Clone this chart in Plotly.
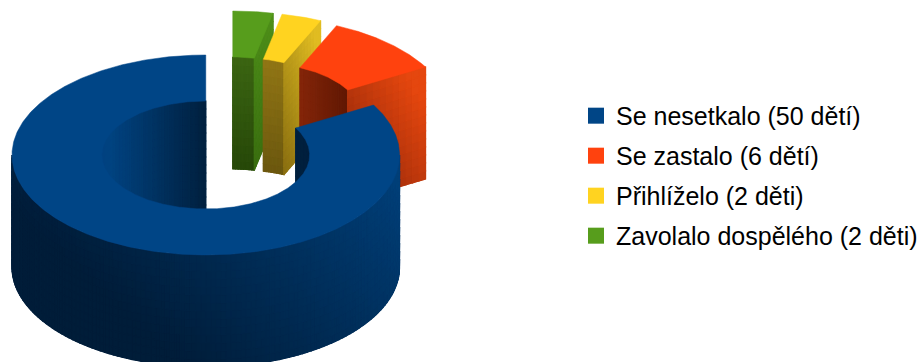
import numpy as np
import plotly.graph_objects as go

# Survey answers and their legend text
labels = ["Se nesetkalo (50 dětí)", "Se zastalo (6 dětí)", "Přihlíželo (2 děti)", "Zavolalo dospělého (2 děti)"]
values = [50, 6, 2, 2]
top_colors = ["#004586", "#ff420e", "#ffd320", "#579d1c"]

# How far each slice is pulled out of the ring (pixels right, pixels up)
pull_x = [0, 52, 36, 27]
pull_y = [0, 38, 43, 44]

# Wall shading per slice: (dark, light, x weight, y weight, offset)
inner_shade = [
    ("#00203e", "#004380", -2.18, 0.0, 1.1),
    ("#601804", "#84260a", -1.0, 0.0, 1.0),
    ("#6b570f", "#927716", 0.0, 1.0, 0.0),
    ("#274809", "#3c6613", 0.0, 1.0, 0.0),
]
face_shade = [
    None,
    ("#92280a", "#e5470f", 0.65, 0.75, -0.2),
    ("#8b7011", "#e0bc22", 0.5, 0.7, -0.05),
    ("#3a6d10", "#4f901a", 0.0, 1.0, 0.0),
]
outer_shade = [("#001d39", "#003f78", 0.95, 0.55, -0.42), None, None, None]

# Ring geometry in page pixels
CX, CY = 206, 155
RX_OUT, RY_OUT = 194, 100
RX_IN, RY_IN = 104, 54
DEPTH = 112
LEVELS = 56


def ring_xy(theta, rx, ry, px, py, drop=0.0):
    rad = np.radians(theta)
    return CX + rx * np.sin(rad) + px, CY - ry * np.cos(rad) - py + drop


def hex_rgb(c):
    return np.array([int(c[i:i + 2], 16) for i in (1, 3, 5)], dtype=float)


def polygon_trace(quads, color, width):
    xs, ys = [], []
    for q in quads:
        xs += [p[0] for p in q] + [q[0][0], None]
        ys += [p[1] for p in q] + [q[0][1], None]
    return go.Scatter(x=xs, y=ys, mode="lines", fill="toself", fillcolor=color,
                      line=dict(color=color, width=width), hoverinfo="skip", showlegend=False)


def shaded_traces(cells, shade):
    """Bin small quads by gradient level and draw each bin as one filled trace."""
    low, high, wx, wy, off = shade
    pts = np.array([p for q in cells for p in q])
    x0, x1, y0, y1 = pts[:, 0].min(), pts[:, 0].max(), pts[:, 1].min(), pts[:, 1].max()
    bins = {}
    for q in cells:
        mx, my = np.mean(q, axis=0)
        t = wx * (mx - x0) / max(x1 - x0, 1) + wy * (y1 - my) / max(y1 - y0, 1) + off
        level = int(round(np.clip(t, 0, 1) * (LEVELS - 1)))
        bins.setdefault(level, []).append(q)
    # A flat underlay closes the hairline seams between neighbouring quads
    levels = sorted(bins)
    mid = hex_rgb(low) + (hex_rgb(high) - hex_rgb(low)) * levels[len(levels) // 2] / (LEVELS - 1)
    out = [polygon_trace(cells, "rgb(%d,%d,%d)" % tuple(mid), 0.6)]
    for level in levels:
        rgb = hex_rgb(low) + (hex_rgb(high) - hex_rgb(low)) * level / (LEVELS - 1)
        out.append(polygon_trace(bins[level], "rgb(%d,%d,%d)" % tuple(rgb), 1.2))
    return out


def wall_cells(t_from, t_to, rx, ry, px, py, keep):
    cells = []
    thetas = np.arange(t_from, t_to + 0.01, 1.5)
    if thetas[-1] < t_to:
        thetas = np.append(thetas, t_to)
    drops = np.linspace(0, DEPTH, 15)
    for a, b in zip(thetas[:-1], thetas[1:]):
        if not keep(np.cos(np.radians((a + b) / 2))):
            continue
        for d0, d1 in zip(drops[:-1], drops[1:]):
            cells.append([ring_xy(a, rx, ry, px, py, d0), ring_xy(b, rx, ry, px, py, d0),
                          ring_xy(b, rx, ry, px, py, d1), ring_xy(a, rx, ry, px, py, d1)])
    return cells


def face_cells(theta, px, py):
    cells = []
    fr = np.linspace(0, 1, 13)
    drops = np.linspace(0, DEPTH, 15)

    def pt(f, d):
        return ring_xy(theta, RX_IN + (RX_OUT - RX_IN) * f, RY_IN + (RY_OUT - RY_IN) * f, px, py, d)

    for f0, f1 in zip(fr[:-1], fr[1:]):
        for d0, d1 in zip(drops[:-1], drops[1:]):
            cells.append([pt(f0, d0), pt(f1, d0), pt(f1, d1), pt(f0, d1)])
    return cells


def slice_traces(i, t_from, t_to):
    px, py = pull_x[i], pull_y[i]
    traces = []
    inner = wall_cells(t_from, t_to, RX_IN, RY_IN, px, py, lambda c: c > 0)
    if inner:
        traces += shaded_traces(inner, inner_shade[i])
    if face_shade[i]:
        traces += shaded_traces(face_cells(t_to, px, py), face_shade[i])
    # Top of the slice
    th = np.linspace(t_from, t_to, max(int(t_to - t_from), 8) * 2)
    xo, yo = ring_xy(th, RX_OUT, RY_OUT, px, py)
    xi, yi = ring_xy(th[::-1], RX_IN, RY_IN, px, py)
    top = go.Scatter(x=np.r_[xo, xi, xo[0]], y=np.r_[yo, yi, yo[0]], mode="lines", fill="toself",
                     fillcolor=top_colors[i], line=dict(color=top_colors[i], width=0.5),
                     hoverinfo="skip", showlegend=False)
    if outer_shade[i]:
        outer = wall_cells(t_from, t_to, RX_OUT, RY_OUT, px, py, lambda c: c < 0)
        traces += shaded_traces(outer, outer_shade[i])
    traces.append(top)
    return traces


# Slices run counter-clockwise from twelve o'clock, so the angle bounds shrink from 360
edges = 360 - np.cumsum([0] + values) * 360 / sum(values)

fig = go.Figure()
for i, (name, color) in enumerate(zip(labels, top_colors)):
    fig.add_trace(go.Scatter(x=[None], y=[None], mode="markers", name=name, legendgroup=name,
                             marker=dict(symbol="square", size=16, color=color)))
# Painter's order: the far small slices first, the big ring last
for i in range(len(values) - 1, -1, -1):
    for tr in slice_traces(i, edges[i + 1], edges[i]):
        fig.add_trace(tr)

fig.update_layout(
    width=923, height=362, margin=dict(l=0, r=0, t=0, b=0),
    paper_bgcolor="white", plot_bgcolor="white",
    font=dict(family="Liberation Sans", size=25, color="black"),
    xaxis=dict(range=[0, 923], visible=False, fixedrange=True),
    yaxis=dict(range=[362, 0], visible=False, fixedrange=True),
    legend=dict(x=0.6245, y=0.514, xanchor="left", yanchor="middle", tracegroupgap=4.5,
                bgcolor="rgba(0,0,0,0)", borderwidth=0, itemclick=False, itemdoubleclick=False),
)
fig.write_html("out.html", config=dict(displayModeBar=False))
